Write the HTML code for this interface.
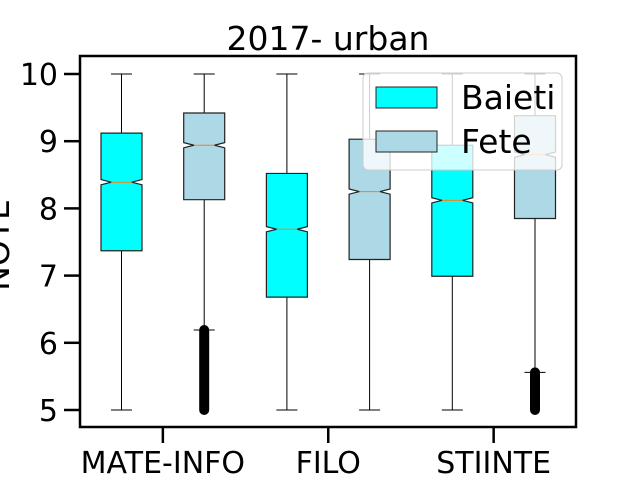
<!DOCTYPE html>
<html><head><meta charset="utf-8"><style>body{margin:0;background:#fff}svg{display:block}text{font-family:"DejaVu Sans","Liberation Sans",sans-serif;fill:#000}</style></head>
<body>
<svg id="chart" width="640" height="480" viewBox="0 0 640 480" xmlns="http://www.w3.org/2000/svg">
<text x="328" y="50" style="font-size:33px" text-anchor="middle">2017- urban</text>
<text transform="translate(9,245) rotate(-90)" style="font-size:33px" text-anchor="middle">NOTE</text>
<g id="plot"></g>
<rect x="80" y="56" width="496" height="371" fill="none" stroke="#000" stroke-width="2.5"/>
<g id="axes"></g>
<g>
<rect x="363" y="73" width="199" height="97" rx="5" fill="#fff" fill-opacity="0.8" stroke="#ccc" stroke-width="1"/>
<rect x="376" y="87" width="61" height="21" fill="#00ffff" stroke="#222" stroke-width="1"/>
<text x="461" y="109" style="font-size:33px">Baieti</text>
<rect x="376" y="131" width="61" height="21" fill="#add8e6" stroke="#222" stroke-width="1"/>
<text x="461" y="153" style="font-size:33px">Fete</text>
</g>
</svg>
<script>
const categories = ["MATE-INFO", "FILO", "STIINTE"];
const seriesNames = ["Baieti", "Fete"];
const q1 = [7.37, 8.13, 6.68, 7.24, 6.99, 7.85];
const medians = [8.39, 8.94, 7.69, 8.25, 8.12, 8.80];
const q3 = [9.12, 9.42, 8.52, 9.03, 8.94, 9.38];
const whiskLo = [5, 6.19, 5, 5, 5, 5.56];
const whiskHi = [10, 10, 10, 10, 10, 10];
const outlierMin = [null, 5, null, null, null, 5];
const yTicks = [5, 6, 7, 8, 9, 10];
const colors = ["#00ffff", "#add8e6"];

const NS = "http://www.w3.org/2000/svg";
const plot = document.getElementById("plot");
const axes = document.getElementById("axes");
function y(v){ return 410 - (v - 5) * 67.2; }
function xc(i){ return 121.5 + i * 82.7; }
function mk(tag, attrs, parent){ const e = document.createElementNS(NS, tag); for (const k in attrs) e.setAttribute(k, attrs[k]); parent.appendChild(e); return e; }

for (let i = 0; i < q1.length; i++) {
  const c = xc(i), hw = 20.5, nw = 10.25, nh = 2.6;
  const g = mk("g", {}, plot);
  
  
  mk("line", {x1:c, x2:c, y1:y(q3[i]), y2:y(whiskHi[i]), stroke:"#000", "stroke-width":1}, g);
  mk("line", {x1:c, x2:c, y1:y(q1[i]), y2:y(whiskLo[i]), stroke:"#000", "stroke-width":1}, g);
  mk("line", {x1:c-10.5, x2:c+10.5, y1:y(whiskHi[i]), y2:y(whiskHi[i]), stroke:"#000", "stroke-width":1}, g);
  mk("line", {x1:c-10.5, x2:c+10.5, y1:y(whiskLo[i]), y2:y(whiskLo[i]), stroke:"#000", "stroke-width":1}, g);
  if (outlierMin[i] !== null) {
    mk("line", {x1:c, x2:c, y1:y(whiskLo[i]), y2:y(outlierMin[i]), stroke:"#000", "stroke-width":10, "stroke-linecap":"round"}, g);
  }
  const m = y(medians[i]), t = y(q3[i]), b = y(q1[i]);
  const d = `M${c-hw},${b} L${c-hw},${m+nh} L${c-nw},${m} L${c-hw},${m-nh} L${c-hw},${t} L${c+hw},${t} L${c+hw},${m-nh} L${c+nw},${m} L${c+hw},${m+nh} L${c+hw},${b} Z`;
  mk("path", {d:d, fill:colors[i%2], stroke:"#222", "stroke-width":1.2}, g);
  mk("line", {x1:c-nw, x2:c+nw, y1:m, y2:m, stroke:"#ff7f0e", "stroke-width":1}, g);
}

yTicks.forEach(v => {
  const l = mk("line", {x1:64, x2:80, y1:y(v), y2:y(v), stroke:"#000", "stroke-width":2.5}, axes);
  
  
  const t = mk("text", {x:58, y:y(v)+11, style:"font-size:30px", "text-anchor":"end"}, axes);
  t.textContent = v;
  
  
});
categories.forEach((cat, k) => {
  const c = (xc(2*k) + xc(2*k+1)) / 2;
  const l = mk("line", {x1:c, x2:c, y1:427, y2:443, stroke:"#000", "stroke-width":2.5}, axes);
  
  
  const t = mk("text", {x:c, y:473, style:"font-size:30px", "text-anchor":"middle"}, axes);
  t.textContent = cat;
  
  
});
</script>
</body></html>
